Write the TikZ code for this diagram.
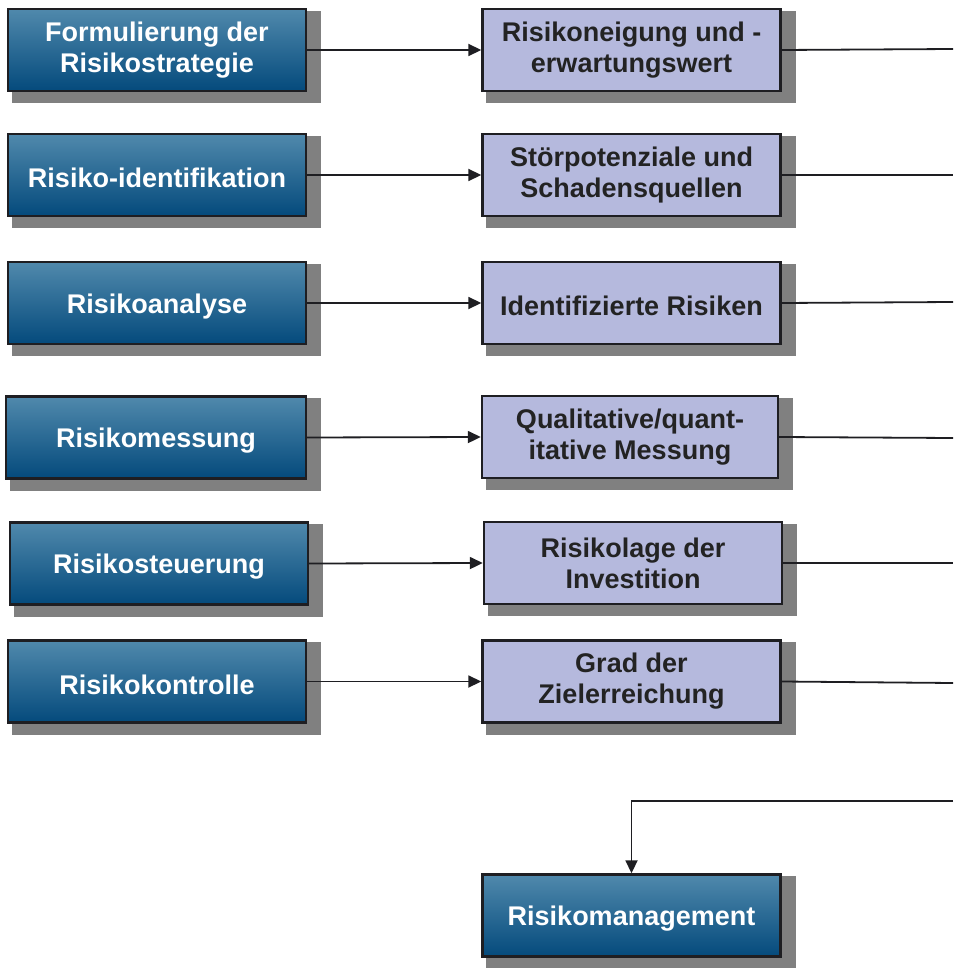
\documentclass[tikz,border=0pt]{standalone}
\usepackage{fontspec}
\setmainfont{Liberation Sans}
\usetikzlibrary{arrows.meta,backgrounds}
\definecolor{topblue}{RGB}{80,137,172}
\definecolor{botblue}{RGB}{4,74,124}
\definecolor{lav}{RGB}{181,185,221}
\definecolor{shad}{RGB}{128,128,128}
\definecolor{edge}{RGB}{30,30,34}
\definecolor{txtdark}{RGB}{35,35,35}
\tikzset{
  boxbase/.style={rectangle, draw=edge, line width=2.4pt, minimum width=298pt, minimum height=82pt,
    inner sep=0pt, align=center, font=\fontsize{27}{31}\selectfont\bfseries,
    execute at begin node={\rule{0pt}{0.95em}}},
  bluebox/.style={boxbase, top color=topblue, bottom color=botblue, text=white},
  lavbox/.style={boxbase, fill=lav, text=txtdark},
  conn/.style={draw=edge, line width=1.8pt},
  arr/.style={conn, -{Triangle[length=13pt,width=12pt]}}
}
\newcommand{\myshadow}[1]{\fill[shad] ([xshift=5pt,yshift=-3pt]#1.north west) rectangle ([xshift=14pt,yshift=-11pt]#1.south east);}
\begin{document}
\begin{tikzpicture}[x=1pt,y=-1pt]
\useasboundingbox (0,0) rectangle (953,968);
\begin{scope}
\clip (0,0) rectangle (953,968);
% left column
\node[bluebox] (l1) at (157,50) {Formulierung der\\Risikostrategie};
\node[bluebox] (l2) at (157,175) {Risiko-identifikation};
\node[bluebox] (l3) at (157,303) {Risikoanalyse};
\node[bluebox, minimum width=300pt] (l4) at (156,437.5) {Risikomessung};
\node[bluebox] (l5) at (159,563.5) {Risikosteuerung};
\node[bluebox] (l6) at (157,681.5) {Risikokontrolle};
% middle column
\node[lavbox] (m1) at (631.5,50) {Risikoneigung und -\\erwartungswert};
\node[lavbox] (m2) at (631.5,175) {Störpotenziale und\\Schadensquellen};
\node[lavbox] (m3) at (631.5,303) {Identifizierte Risiken};
\node[lavbox, minimum width=296pt] (m4) at (630,437) {Qualitative/quant-\\itative Messung};
\node[lavbox] (m5) at (633,563) {Risikolage der\\Investition};
\node[lavbox] (m6) at (631.5,681.5) {Grad der\\Zielerreichung};
\node[bluebox] (rm) at (631.5,915.5) {Risikomanagement};
\begin{scope}[on background layer]
\myshadow{l1}\myshadow{l2}\myshadow{l3}\myshadow{l4}\myshadow{l5}\myshadow{l6}
\myshadow{m1}\myshadow{m2}\myshadow{m3}\myshadow{m4}\myshadow{m5}\myshadow{m6}
\myshadow{rm}
\end{scope}
\end{scope}
% free ends at the right margin
\coordinate (r1) at (953,49);
\coordinate (r2) at (953,175);
\coordinate (r3) at (953,302);
\coordinate (r4) at (953,438);
\coordinate (r5) at (953,563);
\coordinate (r6) at (953,683);
\coordinate (rb) at (953,801);
% arrows
\foreach \i in {1,...,6} {
  \draw[arr] (l\i.east) -- (m\i.west);
  \draw[conn] (m\i.east) -- (r\i);
}
\draw[arr] (rb) -| (rm.north);
\end{tikzpicture}
\end{document}
